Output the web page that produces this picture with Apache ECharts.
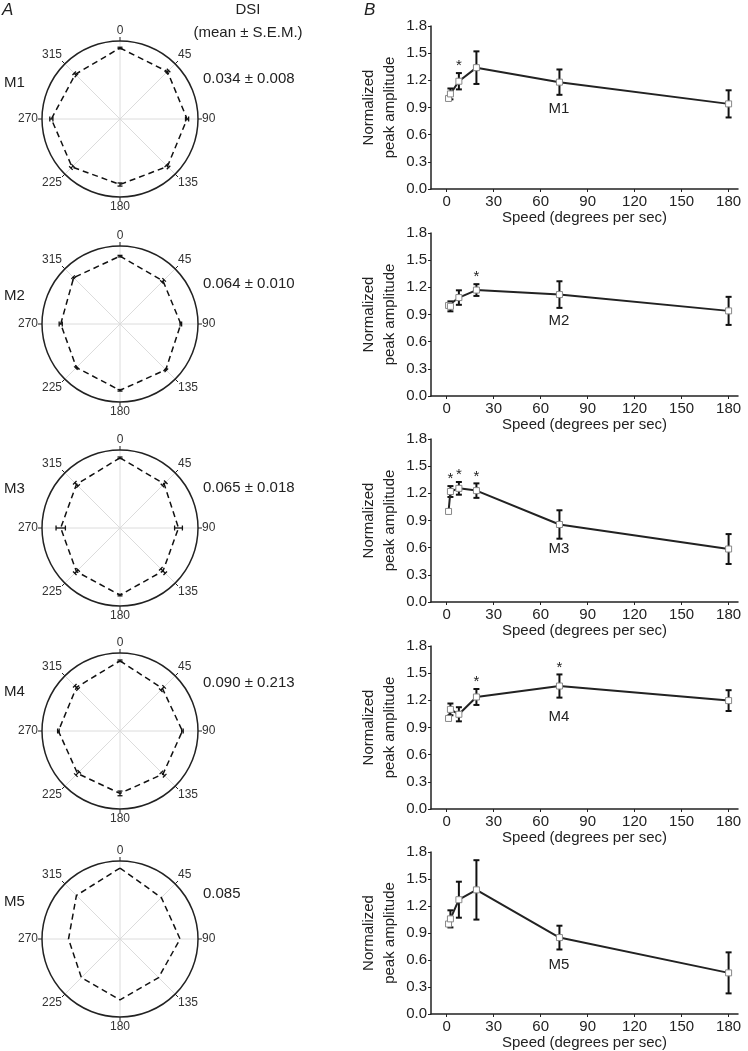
<!DOCTYPE html>
<html><head><meta charset="utf-8">
<script src="https://cdn.jsdelivr.net/npm/echarts@6/dist/echarts.min.js"></script>
<style>html,body{margin:0;padding:0;background:#fff}#c{width:748px;height:1051px}</style>
</head><body><div id="c"></div>
<script>
// ---------- data ----------
const panels = ['M1', 'M2', 'M3', 'M4', 'M5'];
const dsiLabels = ['0.034 ± 0.008', '0.064 ± 0.010', '0.065 ± 0.018', '0.090 ± 0.213', '0.085'];
const directions = [0, 45, 90, 135, 180, 225, 270, 315];

const polarM1 = [0.91, 0.86, 0.86, 0.86, 0.84, 0.87, 0.88, 0.81];
const polarErrM1 = [0.01, 0.02, 0.02, 0.02, 0.02, 0.02, 0.02, 0.02];
const polarM2 = [0.87, 0.78, 0.78, 0.83, 0.85, 0.79, 0.76, 0.84];
const polarErrM2 = [0.01, 0.02, 0.01, 0.01, 0.01, 0.01, 0.02, 0.01];
const polarM3 = [0.90, 0.80, 0.75, 0.78, 0.86, 0.79, 0.76, 0.79];
const polarErrM3 = [0.01, 0.03, 0.05, 0.04, 0.01, 0.03, 0.06, 0.03];
const polarM4 = [0.90, 0.77, 0.80, 0.78, 0.80, 0.77, 0.79, 0.79];
const polarErrM4 = [0.01, 0.03, 0.01, 0.03, 0.03, 0.03, 0.01, 0.03];
const polarM5 = [0.91, 0.75, 0.77, 0.70, 0.78, 0.70, 0.66, 0.79];
const polarErrM5 = [0, 0, 0, 0, 0, 0, 0, 0];

const speeds = [1.2, 2.4, 7.8, 19, 72, 180];
const ampM1 = [1.00, 1.05, 1.19, 1.34, 1.18, 0.94];
const errM1 = [0, 0.06, 0.09, 0.18, 0.14, 0.15];
const starsM1 = [7.8];
const ampM2 = [1.00, 0.99, 1.087, 1.17, 1.12, 0.94];
const errM2 = [0, 0.055, 0.08, 0.065, 0.147, 0.155];
const starsM2 = [19];
const ampM3 = [1.00, 1.22, 1.255, 1.23, 0.856, 0.585];
const errM3 = [0, 0.06, 0.07, 0.08, 0.157, 0.165];
const starsM3 = [2.4, 7.8, 19];
const ampM4 = [1.00, 1.10, 1.046, 1.237, 1.358, 1.197];
const errM4 = [0, 0.065, 0.078, 0.088, 0.128, 0.115];
const starsM4 = [19, 72];
const ampM5 = [1.00, 1.057, 1.27, 1.379, 0.849, 0.457];
const errM5 = [0, 0.095, 0.2, 0.33, 0.132, 0.228];
const starsM5 = [];

const xTicks = [0, 30, 60, 90, 120, 150, 180];
const yTicks = [0, 0.3, 0.6, 0.9, 1.2, 1.5, 1.8];

// ---------- layout ----------
const FONT = '"Liberation Sans", Arial, sans-serif';
const polarCY = [119, 324, 528, 731, 939];
const gridTop = [26, 233, 439, 646, 852];
const mLabelY = [83, 296, 489, 692, 902];
const dsiY = [79, 284, 488, 683, 894];
const inLabelY = [109, 321, 549, 717, 965];

const polarVals = [polarM1, polarM2, polarM3, polarM4, polarM5];
const polarErrs = [polarErrM1, polarErrM2, polarErrM3, polarErrM4, polarErrM5];
const amps = [ampM1, ampM2, ampM3, ampM4, ampM5];
const errs = [errM1, errM2, errM3, errM4, errM5];
const stars = [starsM1, starsM2, starsM3, starsM4, starsM5];

const polar = [], angleAxis = [], radiusAxis = [], grid = [], xAxis = [], yAxis = [], series = [], graphic = [];

panels.forEach((name, i) => {
  polar.push({ center: [120, polarCY[i]], radius: 78 });
  angleAxis.push({
    polarIndex: i, type: 'value', min: 0, max: 360, interval: 45, startAngle: 90, clockwise: true,
    axisLine: { lineStyle: { color: '#222', width: 1.5 } },
    axisTick: { show: true, length: 4, lineStyle: { color: '#222', width: 1 } },
    axisLabel: { formatter: v => (v === 360 ? '' : String(v)), fontSize: 12, color: '#333', margin: 4, fontFamily: FONT },
    splitLine: { show: true, lineStyle: { color: '#dcdcdc', width: 1 } }
  });
  radiusAxis.push({ polarIndex: i, type: 'value', min: 0, max: 1, show: false, splitLine: { show: false } });

  const pv = polarVals[i];
  const pdata = directions.map((a, k) => [pv[k], a]);
  pdata.push([pv[0], 360]);
  series.push({
    type: 'line', coordinateSystem: 'polar', polarIndex: i, data: pdata, symbol: 'none', silent: true,
    lineStyle: { color: '#111', width: 1.5, type: [6, 4] }, animation: false, z: 3
  });
  series.push({
    type: 'custom', coordinateSystem: 'polar', polarIndex: i, animation: false, z: 4, silent: true,
    encode: { radius: 0, angle: 1 },
    data: directions.map((a, k) => [pv[k], a, polarErrs[i][k]]),
    renderItem: (params, api) => {
      const r = api.value(0), a = api.value(1), e = api.value(2);
      if (!e) return null;
      const p1 = api.coord([r - e, a]), p2 = api.coord([r + e, a]);
      const dx = p2[0] - p1[0], dy = p2[1] - p1[1];
      const len = Math.hypot(dx, dy) || 1;
      const nx = -dy / len * 2.5, ny = dx / len * 2.5;
      const st = { stroke: '#111', lineWidth: 1.3 };
      return { type: 'group', children: [
        { type: 'line', shape: { x1: p1[0], y1: p1[1], x2: p2[0], y2: p2[1] }, style: st },
        { type: 'line', shape: { x1: p1[0] - nx, y1: p1[1] - ny, x2: p1[0] + nx, y2: p1[1] + ny }, style: st },
        { type: 'line', shape: { x1: p2[0] - nx, y1: p2[1] - ny, x2: p2[0] + nx, y2: p2[1] + ny }, style: st }
      ] };
    }
  });

  // Cartesian panel
  grid.push({ left: 431, top: gridTop[i], width: 307, height: 163 });
  xAxis.push({
    gridIndex: i, type: 'value', min: -10, max: 186,
    axisLine: { onZero: false, lineStyle: { color: '#222', width: 1.5 } },
    axisTick: { show: true, customValues: xTicks, length: 3, lineStyle: { color: '#222' } },
    axisLabel: { customValues: xTicks, fontSize: 15, color: '#222', margin: 5, fontFamily: FONT },
    splitLine: { show: false },
    name: 'Speed (degrees per sec)', nameLocation: 'middle', nameGap: 21,
    nameTextStyle: { fontSize: 15, color: '#222', fontFamily: FONT }
  });
  yAxis.push({
    gridIndex: i, type: 'value', min: 0, max: 1.8,
    axisLine: { show: true, onZero: false, lineStyle: { color: '#222', width: 1.5 } },
    axisTick: { show: true, customValues: yTicks, length: 3, lineStyle: { color: '#222' } },
    axisLabel: { customValues: yTicks, formatter: v => Number(v).toFixed(1), fontSize: 15, color: '#222', margin: 4, fontFamily: FONT },
    splitLine: { show: false },
    name: 'Normalized\npeak amplitude', nameLocation: 'middle', nameGap: 31,
    nameTextStyle: { fontSize: 15, lineHeight: 21, color: '#222', fontFamily: FONT }
  });

  const am = amps[i], er = errs[i];
  series.push({
    type: 'custom', xAxisIndex: i, yAxisIndex: i, animation: false, z: 2, silent: true,
    encode: { x: 0, y: 1 },
    data: speeds.map((s, k) => [s, am[k], er[k]]),
    renderItem: (params, api) => {
      const x = api.value(0), y = api.value(1), e = api.value(2);
      if (!e) return null;
      const t = api.coord([x, y + e]), b = api.coord([x, y - e]);
      const w = 3;
      const st = { stroke: '#111', lineWidth: 2 };
      return { type: 'group', children: [
        { type: 'line', shape: { x1: t[0], y1: t[1], x2: b[0], y2: b[1] }, style: st },
        { type: 'line', shape: { x1: t[0] - w, y1: t[1], x2: t[0] + w, y2: t[1] }, style: st },
        { type: 'line', shape: { x1: b[0] - w, y1: b[1], x2: b[0] + w, y2: b[1] }, style: st }
      ] };
    }
  });
  series.push({
    type: 'line', xAxisIndex: i, yAxisIndex: i, animation: false, z: 3, silent: true,
    data: speeds.map((s, k) => [s, am[k]]),
    lineStyle: { color: '#222', width: 2 },
    symbol: 'rect', symbolSize: 6, showSymbol: true,
    itemStyle: { color: '#fff', borderColor: '#888', borderWidth: 1 }
  });
  series.push({
    type: 'custom', xAxisIndex: i, yAxisIndex: i, animation: false, z: 4, silent: true,
    encode: { x: 0, y: 1 },
    data: stars[i].map(s => { const k = speeds.indexOf(s); return [s, am[k] + er[k]]; }),
    renderItem: (params, api) => {
      const p = api.coord([api.value(0), api.value(1)]);
      return { type: 'text', x: p[0], y: p[1] - 7, style: {
        text: '*', fontSize: 15, fontFamily: FONT, fill: '#222',
        align: 'center', verticalAlign: 'middle', textAlign: 'center', textVerticalAlign: 'middle' } };
    }
  });

  // texts
  graphic.push({ type: 'text', x: 4, y: mLabelY[i], style: { text: name, fontSize: 15, fontFamily: FONT, fill: '#222', align: 'left', verticalAlign: 'middle', textAlign: 'left', textVerticalAlign: 'middle' } });
  graphic.push({ type: 'text', x: 203, y: dsiY[i], style: { text: dsiLabels[i], fontSize: 15, fontFamily: FONT, fill: '#222', align: 'left', verticalAlign: 'middle', textAlign: 'left', textVerticalAlign: 'middle' } });
  graphic.push({ type: 'text', x: 559, y: inLabelY[i], style: { text: name, fontSize: 15, fontFamily: FONT, fill: '#222', align: 'center', verticalAlign: 'middle', textAlign: 'center', textVerticalAlign: 'middle' } });
});

graphic.push({ type: 'text', x: 2, y: 10, style: { text: 'A', fontSize: 17, fontStyle: 'italic', fontFamily: FONT, fill: '#222', align: 'left', verticalAlign: 'middle', textAlign: 'left', textVerticalAlign: 'middle' } });
graphic.push({ type: 'text', x: 364, y: 10, style: { text: 'B', fontSize: 17, fontStyle: 'italic', fontFamily: FONT, fill: '#222', align: 'left', verticalAlign: 'middle', textAlign: 'left', textVerticalAlign: 'middle' } });
graphic.push({ type: 'text', x: 248, y: 10, style: { text: 'DSI', fontSize: 15, fontFamily: FONT, fill: '#222', align: 'center', verticalAlign: 'middle', textAlign: 'center', textVerticalAlign: 'middle' } });
graphic.push({ type: 'text', x: 248, y: 33, style: { text: '(mean ± S.E.M.)', fontSize: 15, fontFamily: FONT, fill: '#222', align: 'center', verticalAlign: 'middle', textAlign: 'center', textVerticalAlign: 'middle' } });

const chart = echarts.init(document.getElementById('c'), null, { renderer: 'canvas' });
chart.setOption({
  animation: false,
  backgroundColor: '#fff',
  textStyle: { fontFamily: FONT },
  polar, angleAxis, radiusAxis, grid, xAxis, yAxis, series, graphic
});
</script>
</body></html>
